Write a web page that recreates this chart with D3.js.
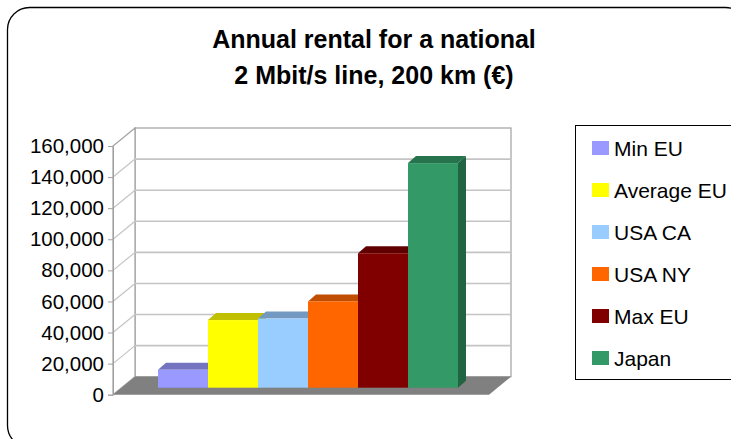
<!DOCTYPE html>
<html>
<head>
<meta charset="utf-8">
<script src="https://cdn.jsdelivr.net/npm/d3@7"></script>
<style>
  body { margin: 0; background: #fff; }
  svg { display: block; font-family: "Liberation Sans", Arial, sans-serif; }
</style>
</head>
<body>
<svg class="svg" width="731" height="439"></svg>
<script>
const titleLines = ['Annual rental for a national', '2 Mbit/s line, 200 km (€)']
const seriesNames = ['Min EU', 'Average EU', 'USA CA', 'USA NY', 'Max EU', 'Japan']
const seriesValues = [11500, 43500, 44500, 55500, 86500, 144500]
const seriesColors = ['#9999ff', '#ffff00', '#99ccff', '#ff6600', '#800000', '#339966']
const tickValues = [0, 20000, 40000, 60000, 80000, 100000, 120000, 140000, 160000]

const svg = d3.select('.svg')

// frame
svg.append('rect')
  .attr('x', 7.5).attr('y', 7.5)
  .attr('width', 740).attr('height', 440)
  .attr('rx', 22).attr('ry', 22)
  .attr('fill', '#fff').attr('stroke', '#000').attr('stroke-width', 1.3)

// title
svg.append('text')
  .attr('text-anchor', 'middle')
  .attr('font-size', 25).attr('font-weight', 'bold')
  .selectAll('tspan').data(titleLines).enter().append('tspan')
  .attr('x', 374).attr('y', (d, i) => 48 + i * 36)
  .text(d => d)

// 3d geometry
const depth = { x: 22, y: -18 }
const barOff = { x: 9, y: -7 }
const barDepth = { x: 8, y: -7 }
const floorX0 = 113, floorX1 = 489
const y = d3.scaleLinear().domain([0, 160000]).range([394.7, 146])
const x = d3.scaleBand().domain(seriesNames).range([149, 449]).padding(0)

const g = svg.append('g')

// back wall
g.append('rect')
  .attr('x', floorX0 + depth.x).attr('y', y(160000) + depth.y)
  .attr('width', floorX1 - floorX0).attr('height', y(0) - y(160000))
  .attr('fill', '#fff').attr('stroke', '#a0a0a0').attr('stroke-width', 1.2)

// left wall
const sidePath = d3.path()
sidePath.moveTo(floorX0, y(0))
sidePath.lineTo(floorX0, y(160000))
sidePath.lineTo(floorX0 + depth.x, y(160000) + depth.y)
sidePath.lineTo(floorX0 + depth.x, y(0) + depth.y)
sidePath.closePath()
g.append('path').attr('d', sidePath.toString())
  .attr('fill', '#fff').attr('stroke', '#a0a0a0').attr('stroke-width', 1.2)

// gridlines on back wall and side wall
const grid = tickValues.filter(v => v > 0 && v < 160000)
g.selectAll('.gridBack').data(grid).enter().append('line')
  .attr('x1', floorX0 + depth.x).attr('x2', floorX1 + depth.x)
  .attr('y1', d => y(d) + depth.y).attr('y2', d => y(d) + depth.y)
  .attr('stroke', '#c4c4c4').attr('stroke-width', 1.6)
g.selectAll('.gridSide').data(grid).enter().append('line')
  .attr('x1', floorX0).attr('x2', floorX0 + depth.x)
  .attr('y1', d => y(d)).attr('y2', d => y(d) + depth.y)
  .attr('stroke', '#c4c4c4').attr('stroke-width', 1.2)

// floor
const floorPath = d3.path()
floorPath.moveTo(floorX0, y(0))
floorPath.lineTo(floorX1, y(0))
floorPath.lineTo(floorX1 + depth.x, y(0) + depth.y)
floorPath.lineTo(floorX0 + depth.x, y(0) + depth.y)
floorPath.closePath()
g.append('path').attr('d', floorPath.toString()).attr('fill', '#808080')

// bars
const bars = g.selectAll('.bar').data(seriesNames.map((n, i) => ({ name: n, value: seriesValues[i], color: seriesColors[i] })))
  .enter().append('g').attr('class', 'bar')

bars.append('path')
  .attr('fill', d => d3.color(d.color).darker(1.2))
  .attr('d', d => {
    const x1 = x(d.name) + x.bandwidth() + barOff.x
    const top = y(d.value) + barOff.y, bot = y(0) + barOff.y
    const p = d3.path()
    p.moveTo(x1, bot); p.lineTo(x1, top)
    p.lineTo(x1 + barDepth.x, top + barDepth.y)
    p.lineTo(x1 + barDepth.x, bot + barDepth.y)
    p.closePath()
    return p.toString()
  })
bars.append('path')
  .attr('fill', d => d3.color(d.color).darker(0.8))
  .attr('d', d => {
    const x0 = x(d.name) + barOff.x, x1 = x0 + x.bandwidth()
    const top = y(d.value) + barOff.y
    const p = d3.path()
    p.moveTo(x0, top); p.lineTo(x1, top)
    p.lineTo(x1 + barDepth.x, top + barDepth.y)
    p.lineTo(x0 + barDepth.x, top + barDepth.y)
    p.closePath()
    return p.toString()
  })
bars.append('rect')
  .attr('x', d => x(d.name) + barOff.x)
  .attr('y', d => y(d.value) + barOff.y)
  .attr('width', x.bandwidth())
  .attr('height', d => y(0) - y(d.value))
  .attr('fill', d => d.color)

// y axis
const axis = svg.append('g')
  .attr('transform', `translate(${floorX0},0)`)
  .call(d3.axisLeft(y).tickValues(tickValues).tickSize(5).tickPadding(4).tickFormat(d3.format(',')))
axis.select('.domain').attr('stroke', '#a0a0a0')
axis.selectAll('.tick line').attr('stroke', '#a0a0a0')
axis.selectAll('.tick text')
  .attr('font-family', '"Liberation Sans", Arial, sans-serif')
  .attr('font-size', 20.5).attr('fill', '#000')

// legend
const legend = svg.append('g')
legend.append('rect')
  .attr('x', 575.5).attr('y', 125.5).attr('width', 170).attr('height', 254)
  .attr('fill', '#fff').attr('stroke', '#000').attr('stroke-width', 1)
const items = legend.selectAll('.item').data(seriesNames).enter().append('g')
  .attr('transform', (d, i) => `translate(592,${148 + i * 42})`)
items.append('rect')
  .attr('x', 0).attr('y', -7).attr('width', 17).attr('height', 14)
  .attr('fill', (d, i) => seriesColors[i])
items.append('text')
  .attr('x', 22).attr('y', 7.5)
  .attr('font-size', 21)
  .text(d => d)
</script>
</body>
</html>
